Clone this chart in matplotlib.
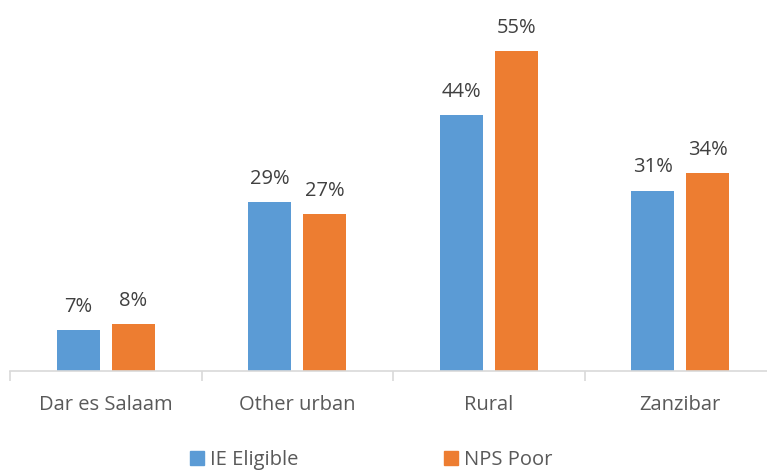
import numpy as np
import matplotlib
matplotlib.use('Agg')
import matplotlib.pyplot as plt
from matplotlib.patches import Patch

categories = ['Dar es Salaam', 'Other urban', 'Rural', 'Zanzibar']
ie_eligible = [7, 29, 44, 31]
nps_poor = [8, 27, 55, 34]
series_names = ['IE Eligible', 'NPS Poor']

blue = '#5B9BD5'
orange = '#ED7D31'
txt = '#595959'

plt.rcParams['font.family'] = ['Open Sans', 'DejaVu Sans']

fig = plt.figure(figsize=(7.67, 4.7), dpi=100)
ax = fig.add_axes([10/767, 99/470, 766/767, 349/470])

x = np.arange(len(categories))
w = 0.224
off = 0.143
b1 = ax.bar(x - off, ie_eligible, w, color=blue)
b2 = ax.bar(x + off, nps_poor, w, color=orange)

# value labels above each bar
for bars, vals in [(b1, ie_eligible), (b2, nps_poor)]:
    for b, v in zip(bars, vals):
        ax.text(b.get_x() + b.get_width()/2, v + 2.3, f'{v}%', ha='center', va='bottom',
                fontsize=14.5, color='#404040')

ax.set_xlim(-0.5, len(categories) - 0.5)
ax.set_ylim(0, 60)
for s in ['top', 'right', 'left']:
    ax.spines[s].set_visible(False)
ax.spines['bottom'].set_color('#D9D9D9')
ax.spines['bottom'].set_linewidth(1.2)
ax.set_yticks([])
ax.set_xticks(np.arange(len(categories) + 1) - 0.5, minor=True)
ax.set_xticks(x)
ax.set_xticklabels(categories, fontsize=14.5, color=txt)
ax.tick_params(axis='x', which='major', length=0, pad=17)
ax.tick_params(axis='x', which='minor', length=7, color='#D9D9D9', width=1.2)

handles = [Patch(color=blue), Patch(color=orange)]
fig.legend(handles, series_names, loc='center', bbox_to_anchor=(0.484, 0.022), ncol=2,
           frameon=False, fontsize=14.5, labelcolor=txt, handlelength=0.7, handleheight=0.7,
           handletextpad=0.3, columnspacing=7.2)

fig.savefig('out.png', dpi=100)
